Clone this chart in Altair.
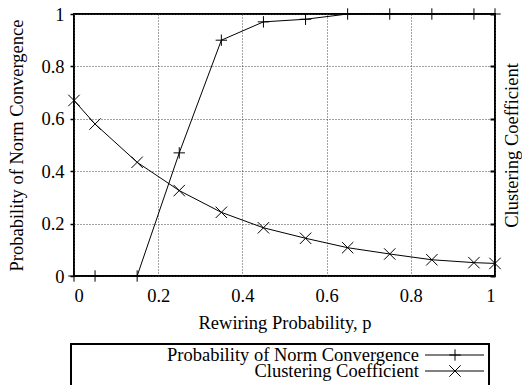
import altair as alt
import pandas as pd

# ---- data ----
p_values = [0, 0.05, 0.15, 0.25, 0.35, 0.45, 0.55, 0.65, 0.75, 0.85, 0.95, 1.0]
norm_conv = [0, 0, 0, 0.47, 0.90, 0.97, 0.98, 1.0, 1.0, 1.0, 1.0, 1.0]
clust_coef = [0.67, 0.58, 0.434, 0.326, 0.243, 0.184, 0.144, 0.108, 0.084, 0.062, 0.051, 0.048]
series_names = ["Probability of Norm Convergence", "Clustering Coefficient"]
x_ticks = [0, 0.2, 0.4, 0.6, 0.8, 1]
y_ticks = [0, 0.2, 0.4, 0.6, 0.8, 1]
x_title = "Rewiring Probability, p"

PLUS = "M-1,0L1,0M0,-1L0,1"
CROSS = "M-1,-1L1,1M-1,1L1,-1"
FONT = "Liberation Serif"
FS = 18.5

df_norm = pd.DataFrame({"p": p_values, "v": norm_conv})
df_clust = pd.DataFrame({"p": p_values, "v": clust_coef})

xenc = alt.X(
    "p:Q",
    scale=alt.Scale(domain=[0, 1], nice=False),
    axis=alt.Axis(values=x_ticks, format="~g", title=x_title, grid=True,
                  ticks=False, domain=False, labelPadding=10, titlePadding=9),
)

# left axis layer: norm convergence
base_n = alt.Chart(df_norm).encode(
    x=xenc,
    y=alt.Y("v:Q", scale=alt.Scale(domain=[0, 1], nice=False),
            axis=alt.Axis(values=y_ticks, format="~g", title=series_names[0],
                          grid=True, ticks=True, tickSize=4, tickWidth=1.5,
                          domain=False, labelPadding=6, titlePadding=14)),
)
norm = alt.layer(
    base_n.mark_line(color="black", strokeWidth=1),
    base_n.mark_point(shape=PLUS, size=130, filled=False, color="black",
                      strokeWidth=1, opacity=1),
)

# right axis layer: clustering coefficient
base_c = alt.Chart(df_clust).encode(
    x=xenc,
    y=alt.Y("v:Q", scale=alt.Scale(domain=[0, 1], nice=False),
            axis=alt.Axis(orient="right", values=y_ticks, labels=False,
                          title=series_names[1], grid=False, ticks=True,
                          tickSize=5, tickWidth=2, offset=-5, domain=False,
                          titleAngle=270, titleBaseline="top", titlePadding=6)),
)
clust = alt.layer(
    base_c.mark_line(color="black", strokeWidth=1),
    base_c.mark_point(shape=CROSS, size=130, filled=False, color="black",
                      strokeWidth=1, opacity=1),
)

# ---- legend box below the plot ----
legend_box = alt.Chart(pd.DataFrame({"k": [0]})).mark_rect(
    fill=None, stroke="black", strokeWidth=2
).encode(x=alt.value(-3), x2=alt.value(415), y=alt.value(330), y2=alt.value(377))

legend_layers = [legend_box]
shapes = [PLUS, CROSS]
row_y = [341, 357]
for i, name in enumerate(series_names):
    d = pd.DataFrame({"label": [name]})
    legend_layers.append(
        alt.Chart(d).mark_text(font=FONT, fontSize=FS, align="right",
                               baseline="middle", color="black")
        .encode(text="label:N", x=alt.value(345), y=alt.value(row_y[i]))
    )
    legend_layers.append(
        alt.Chart(d).mark_rule(color="black", strokeWidth=1)
        .encode(x=alt.value(351), x2=alt.value(410), y=alt.value(row_y[i]))
    )
    legend_layers.append(
        alt.Chart(d).mark_point(shape=shapes[i], size=130, filled=False,
                                color="black", strokeWidth=1, opacity=1)
        .encode(x=alt.value(381), y=alt.value(row_y[i]))
    )

chart = (
    alt.layer(norm, clust, *legend_layers)
    .resolve_scale(y="independent")
    .properties(
        width=421, height=262,
        autosize=alt.AutoSizeParams(type="none"),
        padding={"left": 74, "top": 14, "right": 27, "bottom": 109},
        background="white",
    )
    .configure_view(stroke="black", strokeWidth=2)
    .configure_axis(
        labelFont=FONT, titleFont=FONT, labelFontSize=FS, titleFontSize=FS,
        titleFontWeight="normal", labelColor="black", titleColor="black",
        gridColor="#444", gridDash=[1, 2], gridWidth=1, tickColor="black",
    )
)

chart.save("out.html", embed_options={"renderer": "svg", "actions": False})
